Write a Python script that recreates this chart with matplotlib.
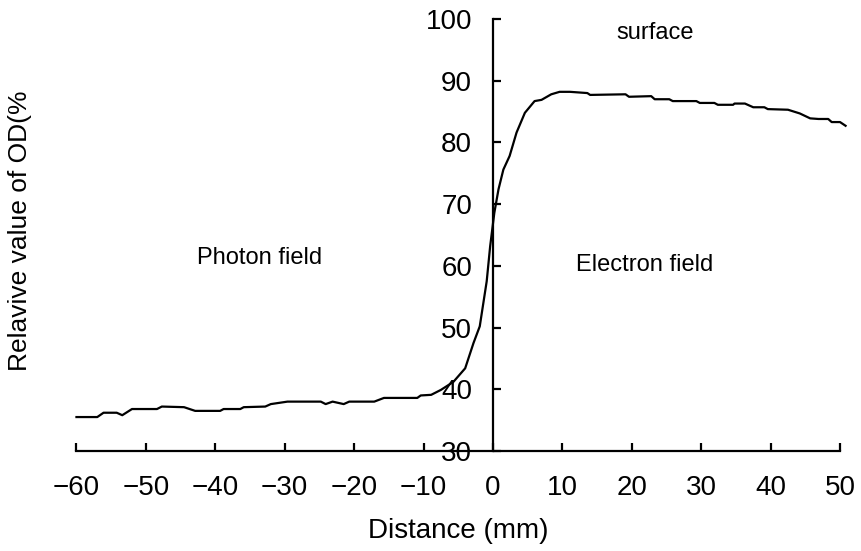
import matplotlib.pyplot as plt

plt.rcParams['font.family'] = ['Liberation Sans', 'DejaVu Sans']

# profile
distance = [-60, -57, -56.1, -54.2, -53.4, -52, -48.4, -47.7, -44.5, -42.9,
            -39.3, -38.8, -36.4, -35.9, -32.8, -32, -29.6, -24.8, -24.1, -23.1,
            -21.5, -20.7, -17.1, -15.7, -10.9, -10.4, -8.9, -7.5, -5.7, -4.0,
            -2.8, -1.9, -0.9, -0.4, 0.2, 0.8, 1.5, 2.4, 3.4, 4.6,
            6.0, 7.0, 8.4, 9.6, 11.1, 13.6, 14.0, 19.1, 19.6, 22.8,
            23.3, 25.4, 25.9, 29.3, 29.8, 31.9, 32.4, 34.6, 34.8, 36.3,
            37.5, 39.1, 39.6, 42.5, 44.2, 45.7, 46.9, 48.3, 48.8, 50.0, 50.8]
od_rel = [35.5, 35.5, 36.2, 36.2, 35.8, 36.8, 36.8, 37.2, 37.1, 36.5,
          36.5, 36.8, 36.8, 37.1, 37.2, 37.6, 38.0, 38.0, 37.6, 38.0,
          37.6, 38.0, 38.0, 38.6, 38.6, 39.0, 39.1, 39.9, 41.2, 43.4,
          47.5, 50.2, 57.5, 63.2, 68.6, 72.4, 75.6, 77.8, 81.6, 84.8,
          86.7, 86.9, 87.8, 88.2, 88.2, 88.0, 87.7, 87.8, 87.4, 87.5,
          87.0, 87.0, 86.7, 86.7, 86.4, 86.4, 86.1, 86.1, 86.3, 86.3,
          85.7, 85.7, 85.4, 85.3, 84.7, 83.9, 83.8, 83.8, 83.3, 83.3, 82.7]

xticks = list(range(-60, 51, 10))
yticks = list(range(30, 101, 10))

fig = plt.figure(figsize=(8.62, 5.51), dpi=100)
ax = fig.add_axes([0.0887, 0.1815, 0.8858, 0.784])

ax.plot(distance, od_rel, color='black', linewidth=1.6, clip_on=False)

ax.set_xlim(-60, 50)
ax.set_ylim(30, 100)
ax.set_xticks(xticks)
ax.set_yticks(yticks)

# y axis sits at x = 0
ax.spines['left'].set_position(('data', 0))
ax.spines['right'].set_visible(False)
ax.spines['top'].set_visible(False)
for s in ('left', 'bottom'):
    ax.spines[s].set_linewidth(1.6)

ax.tick_params(axis='both', direction='in', length=6, width=1.6, labelsize=20)
ax.tick_params(axis='x', pad=17)
ax.tick_params(axis='y', pad=15)

ax.set_xlabel('Distance (mm)', fontsize=20)
ax.set_ylabel('Relavive value of OD(%', fontsize=19)
ax.xaxis.set_label_coords(0.5, -0.155)
ax.yaxis.set_label_coords(-0.058, 0.51)

ax.text(-33.6, 61.3, 'Photon field', fontsize=17, ha='center', va='center')
ax.text(21.9, 60.1, 'Electron field', fontsize=17, ha='center', va='center')
ax.text(23.3, 97.7, 'surface', fontsize=17, ha='center', va='center')

plt.savefig('out.png', dpi=100)
